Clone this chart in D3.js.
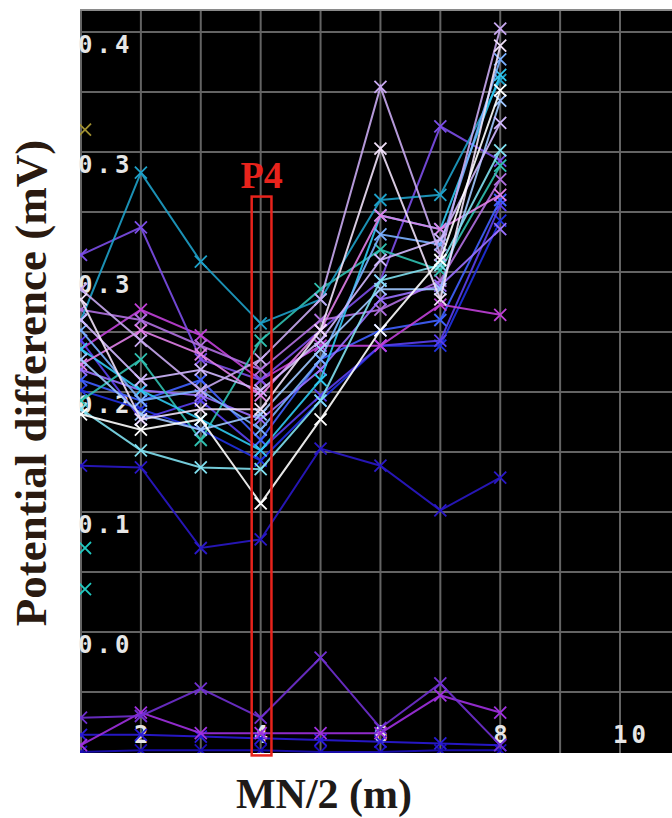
<!DOCTYPE html>
<html>
<head>
<meta charset="utf-8">
<script src="https://cdn.jsdelivr.net/npm/d3@7/dist/d3.min.js"></script>
<style>
  body { margin: 0; background: #fff; }
  svg { display: block; }
</style>
</head>
<body>
<svg id="chart" width="672" height="818"></svg>
<script>
// electrode spacing steps along the x axis
const xValues = [1, 2, 3, 4, 5, 6, 7, 8]

// one entry per sounding curve (mV), drawn in this order
const seriesColors = [
  '#1a0cb8', '#2a1ad8', '#a030e0', '#7030d0',
  '#2a18c8', '#2030e0', '#5a40f0', '#4060ff', '#c040d8', '#7c4ee8',
  '#b070e0', '#9a70ff', '#30c0b0', '#1ea0c8', '#30c8f0', '#e080e8',
  '#7ab0ff', '#a0c8ff', '#80e0f0', '#d0b8ff', '#c8a8f0', '#f0e0f8', '#ffffff'
]
const seriesValues = [
  [-0.030, -0.029, -0.029, -0.029, -0.030, -0.030, -0.029, -0.029],
  [-0.020, -0.020, -0.021, -0.022, -0.023, -0.024, -0.025, -0.026],
  [-0.026, -0.007, -0.019, -0.019, -0.019, -0.019, 0.003, -0.007],
  [-0.010, -0.009, 0.007, -0.010, 0.025, -0.016, 0.010, -0.026],
  [0.137, 0.136, 0.089, 0.094, 0.147, 0.137, 0.111, 0.130],
  [0.181, 0.170, 0.158, 0.140, 0.175, 0.207, 0.207, 0.280],
  [0.210, 0.164, 0.175, 0.146, 0.178, 0.207, 0.210, 0.289],
  [0.187, 0.175, 0.187, 0.152, 0.199, 0.216, 0.222, 0.292],
  [0.205, 0.228, 0.213, 0.187, 0.207, 0.207, 0.231, 0.225],
  [0.260, 0.276, 0.199, 0.187, 0.216, 0.245, 0.335, 0.315],
  [0.228, 0.222, 0.207, 0.193, 0.222, 0.228, 0.245, 0.304],
  [0.193, 0.181, 0.178, 0.164, 0.193, 0.234, 0.242, 0.275],
  [0.175, 0.199, 0.152, 0.210, 0.240, 0.263, 0.251, 0.312],
  [0.222, 0.308, 0.256, 0.220, 0.234, 0.292, 0.295, 0.362],
  [0.205, 0.181, 0.164, 0.146, 0.187, 0.283, 0.275, 0.365],
  [0.196, 0.216, 0.202, 0.178, 0.216, 0.283, 0.275, 0.295],
  [0.216, 0.175, 0.181, 0.158, 0.199, 0.272, 0.266, 0.374],
  [0.199, 0.167, 0.158, 0.167, 0.205, 0.240, 0.240, 0.350],
  [0.170, 0.146, 0.136, 0.135, 0.175, 0.245, 0.254, 0.321],
  [0.222, 0.187, 0.193, 0.181, 0.210, 0.257, 0.269, 0.337],
  [0.240, 0.210, 0.181, 0.199, 0.234, 0.358, 0.260, 0.392],
  [0.234, 0.164, 0.170, 0.170, 0.216, 0.322, 0.234, 0.382],
  [0.167, 0.158, 0.164, 0.115, 0.164, 0.216, 0.257, 0.356]
]

// loose markers sitting on the left border
const strayColors = ['#20c8c0', '#20c8c0', '#a09030']
const strayValues = [0.089, 0.065, 0.333]

const xTickValues = [2, 4, 6, 8, 10]
const xTickLabels = ['2', '4', '6', '8', '10']
const yTickValues = [0.39, 0.32, 0.25, 0.18, 0.11, 0.04]
const yTickLabels = ['0.4', '0.3', '0.3', '0.2', '0.1', '0.0']
const xGridValues = [1, 2, 3, 4, 5, 6, 7, 8, 9, 10, 11]
const yGridValues = [0.005, 0.04, 0.075, 0.11, 0.145, 0.18, 0.215, 0.25, 0.285, 0.32, 0.355, 0.39]

// highlighted reading window around x = 4
const boxX = [3.85, 4.18]
const boxY = [0.294, -0.032]
const boxLabel = 'P4'

const plot = { left: 80, top: 10, right: 672, bottom: 753 }

const xScale = d3.scaleLinear().domain([1, 10]).range([81, 620])
const yScale = d3.scaleLinear().domain([0.04, 0.39]).range([632, 32])

const svg = d3.select('#chart')

svg.append('defs').append('clipPath').attr('id', 'plotClip')
  .append('rect')
  .attr('x', plot.left).attr('y', plot.top)
  .attr('width', plot.right - plot.left).attr('height', plot.bottom - plot.top)

svg.append('rect')
  .attr('x', plot.left).attr('y', plot.top)
  .attr('width', plot.right - plot.left).attr('height', plot.bottom - plot.top)
  .attr('fill', '#000')

const grid = svg.append('g').attr('clip-path', 'url(#plotClip)')
grid.selectAll('line.vx').data(xGridValues).enter().append('line')
  .attr('x1', d => xScale(d)).attr('x2', d => xScale(d))
  .attr('y1', plot.top).attr('y2', plot.bottom)
  .attr('stroke', '#636363').attr('stroke-width', 2)
grid.selectAll('line.hy').data(yGridValues).enter().append('line')
  .attr('x1', plot.left).attr('x2', plot.right)
  .attr('y1', d => yScale(d)).attr('y2', d => yScale(d))
  .attr('stroke', '#636363').attr('stroke-width', 2)

// top border of the panel
svg.append('line')
  .attr('x1', plot.left).attr('x2', plot.right)
  .attr('y1', plot.top).attr('y2', plot.top)
  .attr('stroke', '#8a8a8a').attr('stroke-width', 2)

// tick labels (first glyph is cut by the panel edge like in the original)
svg.selectAll('text.ytick').data(yTickValues).enter().append('text')
  .attr('x', 78).attr('y', d => yScale(d) + 21)
  .attr('fill', '#e6e6e6')
  .style('font', 'bold 24px "DejaVu Sans Mono", monospace')
  .style('letter-spacing', '4px')
  .text((d, i) => yTickLabels[i])

svg.selectAll('text.xtick').data(xTickValues).enter().append('text')
  .attr('x', d => xScale(d) - 7).attr('y', 743)
  .attr('fill', '#e6e6e6')
  .style('font', 'bold 24px "DejaVu Sans Mono", monospace')
  .style('letter-spacing', '4px')
  .text((d, i) => xTickLabels[i])

const lineGen = d3.line()
  .x((d, i) => xScale(xValues[i]))
  .y(d => yScale(d))

const curves = svg.append('g').attr('clip-path', 'url(#plotClip)')

const series = curves.selectAll('g.series').data(seriesValues).enter()
  .append('g').attr('class', 'series')

series.append('path')
  .attr('d', d => lineGen(d))
  .attr('fill', 'none')
  .attr('stroke', (d, i) => seriesColors[i])
  .attr('stroke-width', 2)
  .attr('stroke-opacity', 0.9)

function cross(sel, color) {
  sel.append('path')
    .attr('d', 'M-6,-6L6,6M-6,6L6,-6')
    .attr('fill', 'none')
    .attr('stroke', color)
    .attr('stroke-width', 1.8)
}

series.each(function(vals, si) {
  d3.select(this).selectAll('g.mark').data(vals).enter().append('g')
    .attr('transform', (d, i) => `translate(${xScale(xValues[i])},${yScale(d)})`)
    .each(function() { cross(d3.select(this), seriesColors[si]) })
})

curves.selectAll('g.stray').data(strayValues).enter().append('g')
  .attr('transform', d => `translate(${xScale(xValues[0]) + 4},${yScale(d)})`)
  .each(function(d, i) { cross(d3.select(this), strayColors[i]) })

// P4 box
svg.append('rect')
  .attr('x', xScale(boxX[0])).attr('y', yScale(boxY[0]))
  .attr('width', xScale(boxX[1]) - xScale(boxX[0]))
  .attr('height', yScale(boxY[1]) - yScale(boxY[0]))
  .attr('fill', 'none').attr('stroke', '#e8231c').attr('stroke-width', 2.5)

svg.append('text')
  .attr('x', (xScale(boxX[0]) + xScale(boxX[1])) / 2)
  .attr('y', yScale(boxY[0]) - 9)
  .attr('text-anchor', 'middle')
  .attr('fill', '#e8231c')
  .style('font', 'bold 38px "Liberation Serif", serif')
  .text(boxLabel)

// axis titles
svg.append('text')
  .attr('transform', 'translate(46,383) rotate(-90)')
  .attr('text-anchor', 'middle')
  .attr('fill', '#2a1a10')
  .style('font', 'bold 45px "Liberation Serif", serif')
  .text('Potential difference (mV)')

svg.append('text')
  .attr('x', 324).attr('y', 808)
  .attr('text-anchor', 'middle')
  .attr('fill', '#1e1a18')
  .style('font', 'bold 42px "Liberation Serif", serif')
  .text('MN/2 (m)')
</script>
</body>
</html>
